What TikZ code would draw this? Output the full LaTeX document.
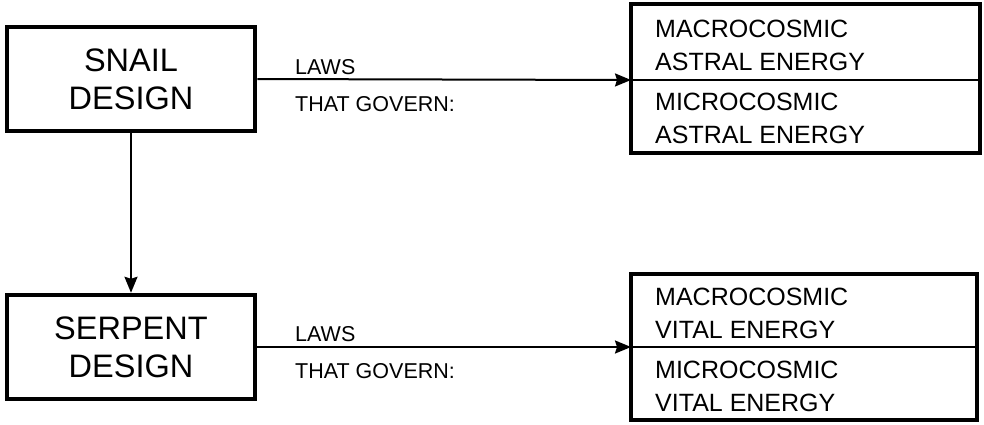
\documentclass[tikz,border=0pt]{standalone}
\usepackage{fontspec}
\setmainfont{Liberation Sans}
\usetikzlibrary{arrows.meta}
\begin{document}
\begin{tikzpicture}[x=1pt,y=-1pt,
    design/.style={draw, line width=4.5pt, minimum width=248pt, minimum height=104pt, align=center, font=\fontsize{32.5}{38}\selectfont},
    energy/.style={anchor=north west, inner sep=0pt, align=left, font=\fontsize{25}{33}\selectfont},
    laws/.style={anchor=north west, inner sep=0pt, align=left, font=\fontsize{21.5}{36.5}\selectfont},
    link/.style={line width=2pt, -{Stealth[length=16pt, width=13pt, inset=2pt]}}]
            \useasboundingbox (0,0) rectangle (984,424);
            \node[design] (snail) at (131,79) {SNAIL\\DESIGN};
            \node[design] (serpent) at (131,347) {SERPENT\\DESIGN};
            \draw[line width=4.5pt] (631,4) rectangle (980,153);
            \draw[line width=4.5pt] (631,274) rectangle (977,420);
            \coordinate (astral) at (631,80);
            \coordinate (vital) at (631,347);
            \draw[line width=2.2pt] (astral) -- (980,80);
            \draw[line width=2.2pt] (vital) -- (977,347);
            \node[energy] (macroastral) at (655,19.5) {MACROCOSMIC\\ASTRAL ENERGY};
            \node[energy] (microastral) at (655,92.5) {MICROCOSMIC\\ASTRAL ENERGY};
            \node[energy] (macrovital) at (655,287.5) {MACROCOSMIC\\VITAL ENERGY};
            \node[energy] (microvital) at (655,360.5) {MICROCOSMIC\\VITAL ENERGY};
            \node[laws] (lawsastral) at (295,59.5) {LAWS\\THAT GOVERN:};
            \node[laws] (lawsvital) at (295,326.5) {LAWS\\THAT GOVERN:};
            \draw[link] (snail.east) -- (astral);
            \draw[link] (serpent.east) -- (vital);
            \draw[link] (snail.south) -- (serpent.north);
          \end{tikzpicture}
\end{document}
